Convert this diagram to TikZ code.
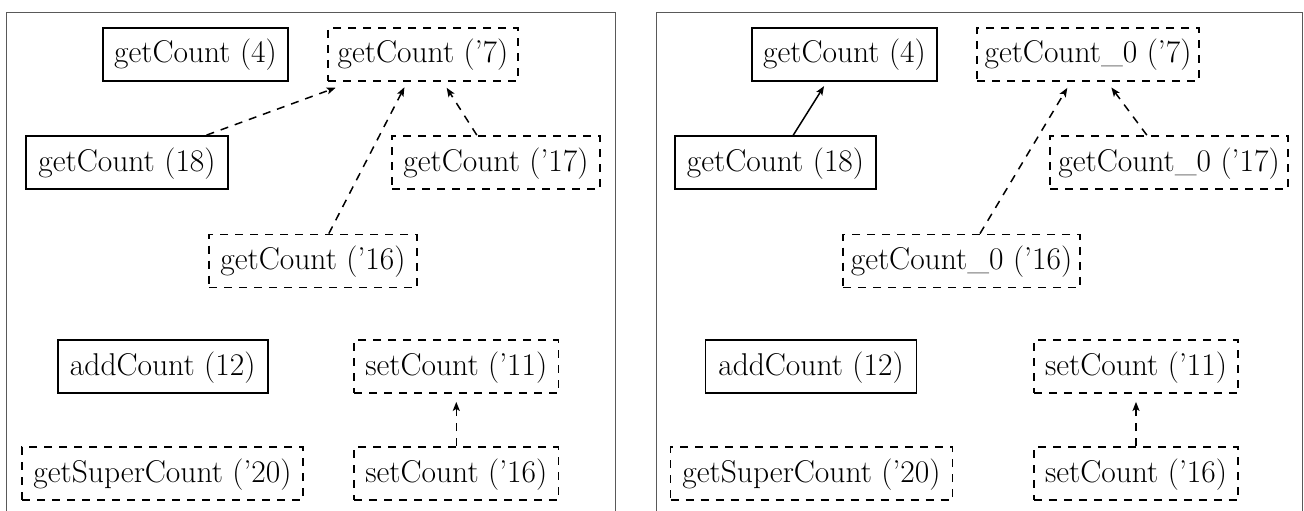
\documentclass[tikz,border=0pt]{standalone}
\usetikzlibrary{arrows.meta}
\begin{document}
\begin{tikzpicture}[x=1pt,y=-1pt,
  box/.style={draw, line width=1.8pt, rectangle, minimum height=53pt, inner sep=0pt,
    font=\fontsize{31.5}{38}\selectfont, text height=22pt, text depth=5pt},
  solidbox/.style={box},
  dashbox/.style={box, dash pattern=on 8pt off 7pt},
  link/.style={line width=1.5pt, -{Stealth[length=9pt,width=7pt,inset=2pt]}},
  dlink/.style={link, dash pattern=on 8pt off 7pt},
  frame/.style={draw=black!65, line width=1pt}]
\path[use as bounding box] (0,0) rectangle (1304,511);
% panel frames
\draw[frame] (6,511) -- (6,13) -- (615,13) -- (615,511);
\draw[frame] (656,511) -- (656,13) -- (1302.5,13) -- (1302.5,511);
% left panel
\node[solidbox, minimum width=185pt] (aFour) at (195.5,54.5) {getCount (4)};
\node[dashbox, minimum width=190pt] (aSeven) at (423,54.5) {getCount ('7)};
\node[solidbox, minimum width=202pt] (aEighteen) at (127,162.5) {getCount (18)};
\node[dashbox, minimum width=208pt] (aSeventeen) at (496,162.5) {getCount ('17)};
\node[dashbox, minimum width=208pt] (aSixteen) at (313,261) {getCount ('16)};
\node[solidbox, minimum width=210pt] (aAdd) at (162.7,366.5) {addCount (12)};
\node[dashbox, minimum width=204.5pt] (aSetEleven) at (456.3,366.5) {setCount ('11)};
\node[dashbox, minimum width=281pt] (aSuper) at (162.5,473.5) {getSuperCount ('20)};
\node[dashbox, minimum width=204.5pt] (aSetSixteen) at (456.3,473.5) {setCount ('16)};
% right panel
\node[solidbox, minimum width=185pt] (bFour) at (844.5,54.5) {getCount (4)};
\node[dashbox, minimum width=222pt] (bSeven) at (1088,54.5) {getCount\_0 ('7)};
\node[solidbox, minimum width=201pt] (bEighteen) at (775.5,162.5) {getCount (18)};
\node[dashbox, minimum width=238pt] (bSeventeen) at (1169,162.5) {getCount\_0 ('17)};
\node[dashbox, minimum width=237pt] (bSixteen) at (961.5,261) {getCount\_0 ('16)};
\node[solidbox, minimum width=211pt] (bAdd) at (811,366.5) {addCount (12)};
\node[dashbox, minimum width=204.5pt] (bSetEleven) at (1136,366.5) {setCount ('11)};
\node[dashbox, minimum width=282pt] (bSuper) at (811.5,473.5) {getSuperCount ('20)};
\node[dashbox, minimum width=204.5pt] (bSetSixteen) at (1136,473.5) {setCount ('16)};
% left edges
\draw[dlink, shorten >=17pt] (aEighteen.19.8) -- (aSeven.201.9);
\draw[dlink, shorten >=6pt] (aSixteen.60.9) -- (aSeven.240.5);
\draw[dlink, shorten >=7pt] (aSeventeen.125.1) -- (aSeven.306.4);
\draw[dlink, shorten >=8pt] (aSetSixteen.north) -- (aSetEleven.south);
% right edges
\draw[link, shorten >=5pt] (bEighteen.57.1) -- (bFour.237.3);
\draw[dlink, shorten >=7pt] (bSixteen.56.1) -- (bSeven.238.9);
\draw[dlink, shorten >=7pt] (bSeventeen.129.2) -- (bSeven.305.6);
\draw[dlink, shorten >=8pt] (bSetSixteen.north) -- (bSetEleven.south);
\end{tikzpicture}
\end{document}
